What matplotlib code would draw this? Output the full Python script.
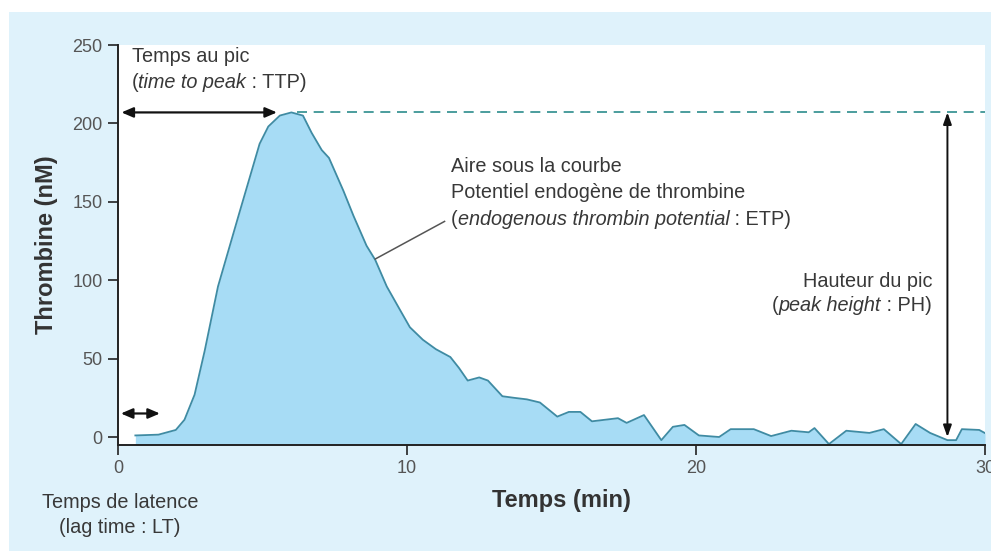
import matplotlib
matplotlib.use("Agg")
import matplotlib.pyplot as plt
from matplotlib.patches import Rectangle

plt.rcParams["font.family"] = ["Liberation Sans", "DejaVu Sans"]

# --- thrombin generation curve ---
time_min = [0.6, 1.4, 2.0, 2.3, 2.65, 3.0, 3.46, 4.2, 4.9, 5.2, 5.6, 6.0,
            6.4, 6.7, 7.05, 7.3, 7.8, 8.15, 8.6, 8.9, 9.3, 9.76, 10.1, 10.55,
            11.0, 11.5, 11.8, 12.1, 12.3, 12.5, 12.8, 13.3, 13.7, 14.15, 14.6,
            15.2, 15.6, 16.0, 16.4, 17.3, 17.6, 18.2, 18.8, 19.2, 19.6, 20.1,
            20.8, 21.2, 22.0, 22.6, 23.3, 23.9, 24.1, 24.6, 25.2, 26.0, 26.5,
            27.1, 27.6, 28.1, 28.7, 29.0, 29.2, 29.8, 30.0]
thrombin_nm = [1, 1.5, 4.5, 11, 27, 55, 96, 143, 187, 198, 205, 207,
               205, 194, 183, 178, 157, 141, 122, 113, 96, 81, 70, 62,
               56, 51, 44, 36, 37, 38, 36, 26, 25, 24, 22,
               13, 16, 16, 10, 12, 9, 14, -2, 6.5, 7.7, 1,
               0, 5, 5, 0.6, 4, 3, 5.7, -4.5, 4, 2.6, 5,
               -4.5, 8.3, 2.6, -2, -2, 5, 4.5, 2.5]

peak_height = 207
peak_time = 5.5
lag_time = 1.45
ph_x = 28.7

x_ticks = [0, 10, 20, 30]
y_ticks = [0, 50, 100, 150, 200, 250]

BG = "#dff2fb"
FILL = "#a7dcf5"
CURVE = "#3f8ba3"
TXT = "#383838"
DASH = "#2c8c8c"
FS = 14.3

fig = plt.figure(figsize=(9.91, 5.51), dpi=100)
fig.patch.set_facecolor("white")
fig.patches.append(Rectangle((9 / 991, 0), 1, 1 - 12 / 551, transform=fig.transFigure,
                             facecolor=BG, edgecolor="none", zorder=-5))

ax = fig.add_axes([118 / 991, 1 - 445 / 551, (985 - 118) / 991, 400 / 551])
ax.set_facecolor("white")
ymin = -5.1
ax.set_xlim(0, 30)
ax.set_ylim(ymin, 250)

ax.fill_between(time_min, thrombin_nm, ymin, color=FILL, lw=0, zorder=1)
ax.plot(time_min, thrombin_nm, color=CURVE, lw=1.3, zorder=2)

for side in ("top", "right"):
    ax.spines[side].set_visible(False)
for side in ("left", "bottom"):
    ax.spines[side].set_color("#222222")
    ax.spines[side].set_linewidth(1.4)
ax.set_xticks(x_ticks)
ax.set_yticks(y_ticks)
ax.tick_params(axis="both", direction="out", length=7, width=1.2,
               colors="#222222", labelcolor="#555555", labelsize=13)
ax.tick_params(axis="x", pad=4)
ax.tick_params(axis="y", pad=4)

ax.set_xlabel("Temps (min)", fontsize=17, fontweight="bold", color="#333333",
              va="center")
ax.xaxis.set_label_coords(0.511, -0.1375)
ax.set_ylabel("Thrombine (nM)", fontsize=17, fontweight="bold", color="#333333",
              va="center")
ax.yaxis.set_label_coords(-0.083, 0.5)

# peak height reference line
ax.plot([6.2, 30], [peak_height, peak_height], color=DASH, lw=1.2,
        dashes=(6, 4), zorder=3, clip_on=False)

arrow = dict(arrowstyle="<|-|>,head_length=0.7,head_width=0.3", color="#111111",
             lw=1.6, shrinkA=0, shrinkB=0)
ax.annotate("", xy=(peak_time, peak_height), xytext=(0.12, peak_height),
            arrowprops=arrow, zorder=4)
ax.annotate("", xy=(lag_time, 15), xytext=(0.1, 15), arrowprops=arrow, zorder=4)
ax.annotate("", xy=(ph_x, peak_height), xytext=(ph_x, 0),
            arrowprops=dict(arrow, arrowstyle="<|-|>,head_length=0.7,head_width=0.25",
                            lw=1.4), zorder=4)

# ETP leader line
ax.plot([8.9, 11.3], [113.5, 137.5], color="#555555", lw=1.1, zorder=3)


def rich_line(x, y, parts, size=FS):
    """Draw a line of text made of (string, style) pieces placed end to end."""
    prev = ax.text(x, y, parts[0][0], style=parts[0][1], fontsize=size,
                   color=TXT, va="baseline", ha="left")
    for s, st in parts[1:]:
        prev = ax.annotate(s, xy=(1, 0), xycoords=prev, va="bottom", ha="left",
                           style=st, fontsize=size, color=TXT)


ax.text(0.48, 239.2, "Temps au pic", fontsize=FS, color=TXT, va="baseline")
rich_line(0.48, 222.6, [("(", "normal"), ("time to peak", "italic"),
                        (" : TTP)", "normal")])

ax.text(11.52, 169, "Aire sous la courbe", fontsize=FS, color=TXT, va="baseline")
ax.text(11.52, 152.4, "Potentiel endogène de thrombine", fontsize=FS, color=TXT,
        va="baseline")
rich_line(11.52, 135.2, [("(", "normal"), ("endogenous thrombin potential", "italic"),
                         (" : ETP)", "normal")])

ax.text(28.17, 95.7, "Hauteur du pic", fontsize=FS, color=TXT, va="baseline",
        ha="right")
# right-aligned mixed-style line: place pieces from the right
ph_last = ax.text(28.17, 80.4, " : PH)", fontsize=FS, color=TXT, va="baseline",
                  ha="right")
ph_mid = ax.annotate("peak height", xy=(0, 0), xycoords=ph_last, va="bottom",
                     ha="right", style="italic", fontsize=FS, color=TXT)
ax.annotate("(", xy=(0, 0), xycoords=ph_mid, va="bottom", ha="right",
            fontsize=FS, color=TXT)

fig.text(120 / 991, 1 - 508 / 551, "Temps de latence", fontsize=FS, color=TXT,
         ha="center", va="baseline")
fig.text(120 / 991, 1 - 533 / 551, "(lag time : LT)", fontsize=FS, color=TXT,
         ha="center", va="baseline")

fig.savefig("out.png", dpi=100, facecolor=fig.get_facecolor())
